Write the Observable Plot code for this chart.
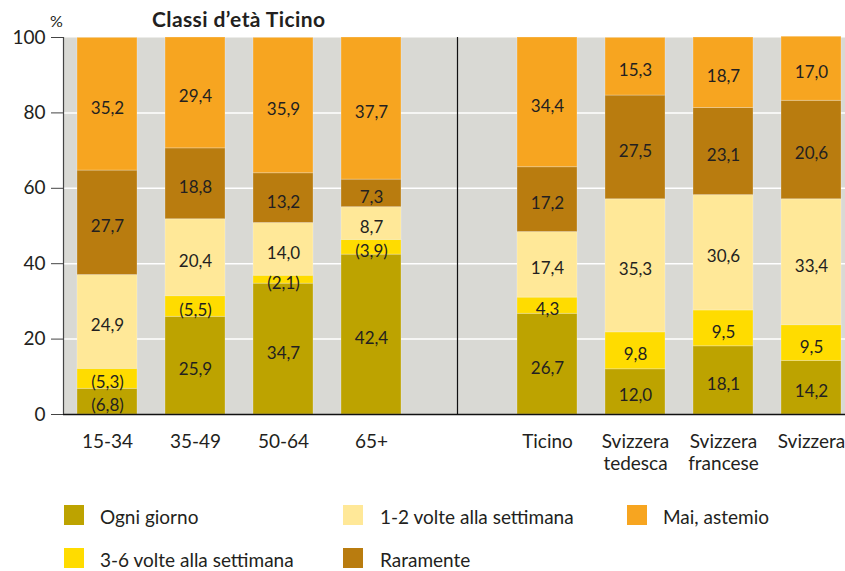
<!DOCTYPE html>
<html>
<head>
<meta charset="utf-8">
<script src="https://cdn.jsdelivr.net/npm/d3@7"></script>
<script src="https://cdn.jsdelivr.net/npm/@observablehq/plot@0.6"></script>
<style>
  html, body { margin: 0; padding: 0; background: #fff; }
  #wrap { position: relative; width: 845px; height: 571px; font-family: Lato, "Open Sans", sans-serif; color: #231f20; overflow: hidden; }
  #chart { position: absolute; left: 0; top: 0; }
  .title { position: absolute; left: 152px; top: 6px; font-weight: bold; font-size: 21px; letter-spacing: 0.4px; white-space: nowrap; }
  .unit { position: absolute; left: 50px; top: 11px; font-size: 16px; }
  .leg { position: absolute; display: flex; align-items: center; font-size: 19px; line-height: 20px; white-space: nowrap; }
  .leg span.sw { display: inline-block; width: 20px; height: 20px; }
</style>
</head>
<body>
<div id="wrap">
  <div id="chart"></div>
  <div class="unit">%</div>
  <div class="title">Classi d’età Ticino</div>
  <div id="legend"></div>
</div>
<script>
// Categories (with an empty slot separating the two groups)
const groups = ["15-34", "35-49", "50-64", "65+", "Ticino", "Svizzera tedesca", "Svizzera francese", "Svizzera"];
const slots = ["15-34", "35-49", "50-64", "65+", "gap", "Ticino", "Svizzera tedesca", "Svizzera francese", "Svizzera"];

// Series
const series = ["Ogni giorno", "3-6 volte alla settimana", "1-2 volte alla settimana", "Raramente", "Mai, astemio"];
const colors = ["#bda300", "#ffdc00", "#ffe898", "#b97c0f", "#f7a520"];

// Values (bar lengths, %)
const ogniGiorno  = [6.8, 25.9, 34.7, 42.4, 26.7, 12.0, 18.1, 14.2];
const treSeiVolte = [5.3, 5.5, 2.1, 3.9, 4.3, 9.8, 9.5, 9.5];
const unoDueVolte = [24.9, 20.4, 14.0, 8.7, 17.4, 35.3, 30.6, 33.4];
const raramente   = [27.7, 18.8, 13.2, 7.3, 17.2, 27.5, 23.1, 26.1];
const maiAstemio  = [35.2, 29.4, 35.9, 37.7, 34.4, 15.3, 18.7, 17.0];

// Printed labels
const ogniLabels   = ["(6,8)", "25,9", "34,7", "42,4", "26,7", "12,0", "18,1", "14,2"];
const treSeiLabels = ["(5,3)", "(5,5)", "(2,1)", "(3,9)", "4,3", "9,8", "9,5", "9,5"];
const unoDueLabels = ["24,9", "20,4", "14,0", "8,7", "17,4", "35,3", "30,6", "33,4"];
const raraLabels   = ["27,7", "18,8", "13,2", "7,3", "17,2", "27,5", "23,1", "20,6"];
const maiLabels    = ["35,2", "29,4", "35,9", "37,7", "34,4", "15,3", "18,7", "17,0"];

const yTicks = [0, 20, 40, 60, 80, 100];

const valueSets = [ogniGiorno, treSeiVolte, unoDueVolte, raramente, maiAstemio];
const labelSets = [ogniLabels, treSeiLabels, unoDueLabels, raraLabels, maiLabels];

const rows = [];
series.forEach((s, si) => {
  groups.forEach((g, gi) => {
    rows.push({series: s, group: g, value: valueSets[si][gi], label: labelSets[si][gi]});
  });
});

const plot = Plot.plot({
  width: 845,
  height: 480,
  marginTop: 37,
  marginBottom: 66,
  marginLeft: 63,
  marginRight: 0,
  style: {fontFamily: "Lato, 'Open Sans', sans-serif", color: "#231f20", background: "transparent"},
  x: {domain: slots, range: [63, 855], paddingInner: 28 / 88, paddingOuter: 14 / 88, align: 0.5},
  y: {domain: [0, 100], range: [414, 37]},
  color: {domain: series, range: colors},
  marks: [
    Plot.frame({fill: "#d9d9d4", stroke: null}),
    Plot.ruleY([20, 40, 60, 80], {stroke: "white", strokeWidth: 1.5}),
    Plot.barY(rows, {x: "group", y: "value", fill: "series", stroke: "white", strokeOpacity: 0.25, strokeWidth: 1}),
    Plot.text(rows, Plot.stackY({x: "group", y: "value", z: "series", text: "label", fontSize: 17, dy: 4, fill: "#231f20"})),
    Plot.ruleY([0], {stroke: "#111", strokeWidth: 1.5}),
    Plot.ruleX(["gap"], {stroke: "#111", strokeWidth: 1.2, dx: -2}),
    Plot.ruleX([groups[0]], {stroke: "#444", strokeWidth: 1.2, dx: -44}),
    Plot.axisY(yTicks, {tickSize: 12, tickPadding: 6, fontSize: 19, label: null, stroke: "#444"}),
    Plot.axisX(groups, {tickSize: 0, tickPadding: 18, fontSize: 19, lineHeight: 1.15, label: null,
      tickFormat: d => d.startsWith("Svizzera ") ? d.replace("Svizzera ", "Svizzera\n") : d})
  ]
});
document.getElementById("chart").appendChild(plot);

// Legend
const legendPos = [
  {left: 64, top: 505, textLeft: 100},
  {left: 64, top: 548, textLeft: 100},
  {left: 343, top: 505, textLeft: 380},
  {left: 343, top: 548, textLeft: 380},
  {left: 627, top: 505, textLeft: 663}
];
const legend = document.getElementById("legend");
series.forEach((s, i) => {
  const p = legendPos[i];
  const div = document.createElement("div");
  div.className = "leg";
  div.style.left = p.left + "px";
  div.style.top = p.top + "px";
  div.style.height = "20px";
  const sw = document.createElement("span");
  sw.className = "sw";
  sw.style.background = colors[i];
  sw.style.marginRight = (p.textLeft - p.left - 20) + "px";
  div.appendChild(sw);
  const t = document.createElement("span");
  t.textContent = s;
  t.style.position = "relative";
  t.style.top = "2px";
  div.appendChild(t);
  legend.appendChild(div);
});
</script>
</body>
</html>
